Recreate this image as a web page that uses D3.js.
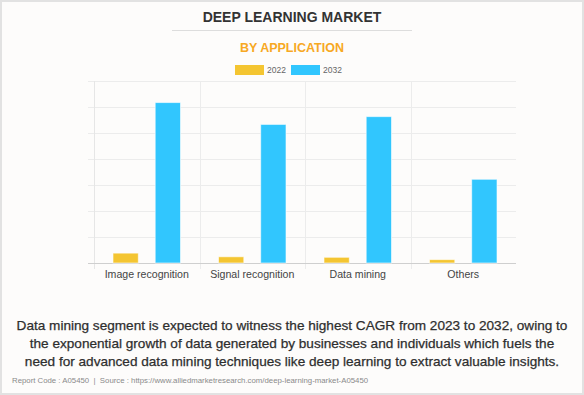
<!DOCTYPE html>
<html>
<head>
<meta charset="utf-8">
<script src="https://cdn.jsdelivr.net/npm/d3@7"></script>
<style>
  body { margin: 0; background: #fff; }
  svg { display: block; font-family: "Liberation Sans", Arial, sans-serif; }
</style>
</head>
<body>
<script>
// chart values (arbitrary units)
var categories = ["Image recognition", "Signal recognition", "Data mining", "Others"];
var seriesNames = ["2022", "2032"];
var values2022 = [3.8, 2.4, 2.2, 1.3];
var values2032 = [61.7, 53.3, 56.3, 32.2];
var yTicks = [0, 10, 20, 30, 40, 50, 60, 70];
var captionLines = [
  "Data mining segment is expected to witness the highest CAGR from 2023 to 2032, owing to",
  "the exponential growth of data generated by businesses and individuals which fuels the",
  "need for advanced data mining techniques like deep learning to extract valuable insights."
];
var footer = "Report Code : A05450  |  Source : https://www.alliedmarketresearch.com/deep-learning-market-A05450";

var width = 584, height = 395;
var colors = {"2022": "#f4c531", "2032": "#31c6fe"};
var plot = {left: 94, right: 516, top: 81, bottom: 263};

var svg = d3.select("body").append("svg")
    .attr("width", width)
    .attr("height", height);

svg.append("rect")
    .attr("x", 1).attr("y", 1)
    .attr("width", width - 2).attr("height", height - 2)
    .style("fill", "#fdfcfb")
    .style("stroke", "#e2e2e2")
    .style("stroke-width", 2);

// titles
svg.append("text")
    .attr("x", width / 2).attr("y", 22)
    .attr("text-anchor", "middle")
    .style("font-size", "14px").style("font-weight", "bold")
    .style("fill", "#333")
    .text("DEEP LEARNING MARKET");

svg.append("line")
    .attr("x1", 172).attr("x2", 412)
    .attr("y1", 30.5).attr("y2", 30.5)
    .style("stroke", "#ddd");

svg.append("text")
    .attr("x", width / 2).attr("y", 52)
    .attr("text-anchor", "middle")
    .style("font-size", "12.5px").style("font-weight", "bold")
    .style("fill", "#f7a823")
    .text("BY APPLICATION");

// legend
var legend = svg.append("g").selectAll("g")
    .data(seriesNames)
  .enter().append("g")
    .attr("transform", function(d, i) { return "translate(" + (235 + i * 56) + ",65)"; });

legend.append("rect")
    .attr("width", 29).attr("height", 10)
    .style("fill", function(d) { return colors[d]; });

legend.append("text")
    .attr("x", 32).attr("y", 8)
    .style("font-size", "8.5px")
    .style("fill", "#666")
    .text(function(d) { return d; });

// scales
var x0 = d3.scaleBand()
    .domain(categories)
    .range([plot.left, plot.right]);

// category 0.8 / bar 0.6 spacing inside each band
var catInset = x0.bandwidth() * 0.1;
var slot = x0.bandwidth() * 0.8 / seriesNames.length;
var barW = slot * 0.6;

var y = d3.scaleLinear()
    .domain([0, 70])
    .range([plot.bottom, plot.top]);

// grid
svg.append("g").selectAll("line")
    .data(yTicks.slice(1))
  .enter().append("line")
    .attr("x1", plot.left - 6).attr("x2", plot.right)
    .attr("y1", function(d) { return Math.round(y(d)) + 0.5; })
    .attr("y2", function(d) { return Math.round(y(d)) + 0.5; })
    .style("stroke", "#ececec");

svg.append("g").selectAll("line")
    .data(categories.slice(1))
  .enter().append("line")
    .attr("x1", function(d) { return Math.round(x0(d)) + 0.5; })
    .attr("x2", function(d) { return Math.round(x0(d)) + 0.5; })
    .attr("y1", plot.top).attr("y2", plot.bottom + 6)
    .style("stroke", "#ececec");

svg.append("line")
    .attr("x1", plot.left + 0.5).attr("x2", plot.left + 0.5)
    .attr("y1", plot.top).attr("y2", plot.bottom + 6)
    .style("stroke", "#e6e6e6");

svg.append("line")
    .attr("x1", plot.left - 6).attr("x2", plot.right)
    .attr("y1", plot.bottom + 0.5).attr("y2", plot.bottom + 0.5)
    .style("stroke", "#cfcfcf");

// bars
var groups = svg.append("g").selectAll("g")
    .data(categories)
  .enter().append("g")
    .attr("transform", function(d) { return "translate(" + x0(d) + ",0)"; });

groups.selectAll("rect")
    .data(function(d, i) {
      return [{key: "2022", value: values2022[i]}, {key: "2032", value: values2032[i]}];
    })
  .enter().append("rect")
    .attr("x", function(d, i) { return catInset + i * slot + (slot - barW) / 2; })
    .attr("y", function(d) { return y(d.value); })
    .attr("width", barW)
    .attr("height", function(d) { return y(0) - y(d.value); })
    .style("fill", function(d) { return colors[d.key]; })
    .style("stroke", "rgba(255,255,255,0.6)")
    .style("stroke-width", 1);

// x axis labels
svg.append("g").selectAll("text")
    .data(categories)
  .enter().append("text")
    .attr("x", function(d) { return x0(d) + x0.bandwidth() / 2; })
    .attr("y", 277.5)
    .attr("text-anchor", "middle")
    .style("font-size", "10.6px")
    .style("fill", "#444")
    .text(function(d) { return d; });

// caption
svg.append("g").selectAll("text")
    .data(captionLines)
  .enter().append("text")
    .attr("x", width / 2)
    .attr("y", function(d, i) { return 330 + i * 18; })
    .attr("text-anchor", "middle")
    .style("font-size", "13.6px")
    .style("fill", "#2e2e2e")
    .style("stroke", "#2e2e2e")
    .style("stroke-width", 0.25)
    .text(function(d) { return d; });

svg.append("text")
    .attr("x", 12).attr("y", 383)
    .style("font-size", "7.8px")
    .style("fill", "#8a8a8a")
    .style("white-space", "pre")
    .text(footer);
</script>
</body>
</html>
